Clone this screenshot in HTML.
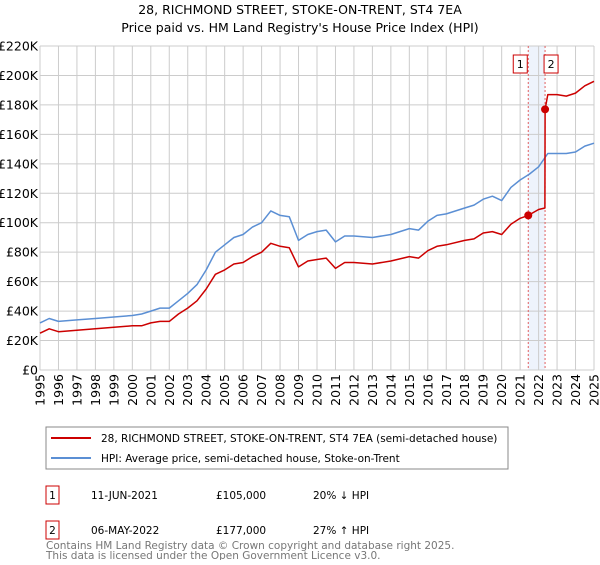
<!DOCTYPE html>
<html><head><meta charset="utf-8"><style>
body{margin:0;background:#fff;font-family:"Liberation Sans","DejaVu Sans",sans-serif;}
</style></head><body>
<svg width="600" height="560" xmlns="http://www.w3.org/2000/svg" font-family="DejaVu Sans, Liberation Sans, sans-serif">
<text x="300" y="14" text-anchor="middle" font-size="12.5" fill="#000">28, RICHMOND STREET, STOKE-ON-TRENT, ST4 7EA</text>
<text x="300" y="32" text-anchor="middle" font-size="12.5" fill="#000">Price paid vs. HM Land Registry's House Price Index (HPI)</text>
<g id="grid"></g>
<g id="marks"></g>
<g id="axes"></g>
<g>
<rect x="46" y="427" width="462" height="42" fill="#fff" stroke="#888"/>
<line x1="51" y1="438" x2="91" y2="438" stroke="#cc0000" stroke-width="2"/>
<text x="101" y="442" font-size="10.5">28, RICHMOND STREET, STOKE-ON-TRENT, ST4 7EA (semi-detached house)</text>
<line x1="51" y1="458" x2="91" y2="458" stroke="#5b8fd4" stroke-width="2"/>
<text x="101" y="462" font-size="10.5">HPI: Average price, semi-detached house, Stoke-on-Trent</text>
</g>
<g font-size="10.5">
<rect x="46" y="486" width="13" height="18" fill="#fff" stroke="#cc0000"/>
<text x="52.5" y="499" text-anchor="middle">1</text>
<text x="91" y="499">11-JUN-2021</text>
<text x="216" y="499">£105,000</text>
<text x="313" y="499">20% ↓ HPI</text>
<rect x="46" y="521" width="13" height="18" fill="#fff" stroke="#cc0000"/>
<text x="52.5" y="534" text-anchor="middle">2</text>
<text x="91" y="534">06-MAY-2022</text>
<text x="216" y="534">£177,000</text>
<text x="313" y="534">27% ↑ HPI</text>
</g>
<text x="46" y="549" font-size="10.5" fill="#777">Contains HM Land Registry data © Crown copyright and database right 2025.</text>
<text x="46" y="559" font-size="10.5" fill="#777">This data is licensed under the Open Government Licence v3.0.</text>
</svg>
<script>
const yTicks=[0,20,40,60,80,100,120,140,160,180,200,220];
const yTickLabels=["£0","£20K","£40K","£60K","£80K","£100K","£120K","£140K","£160K","£180K","£200K","£220K"];
const xYears=[1995,1996,1997,1998,1999,2000,2001,2002,2003,2004,2005,2006,2007,2008,2009,2010,2011,2012,2013,2014,2015,2016,2017,2018,2019,2020,2021,2022,2023,2024,2025];
const hpiDates=[1995,1995.5,1996,1997,1998,1999,2000,2000.5,2001,2001.5,2002,2002.5,2003,2003.5,2004,2004.5,2005,2005.5,2006,2006.5,2007,2007.5,2008,2008.5,2009,2009.5,2010,2010.5,2011,2011.5,2012,2013,2014,2015,2015.5,2016,2016.5,2017,2018,2018.5,2019,2019.5,2020,2020.5,2021,2021.5,2022,2022.5,2023,2023.5,2024,2024.5,2025];
const hpiValues=[32,35,33,34,35,36,37,38,40,42,42,47,52,58,68,80,85,90,92,97,100,108,105,104,88,92,94,95,87,91,91,90,92,96,95,101,105,106,110,112,116,118,115,124,129,133,138,147,147,147,148,152,154];
const propDates=[1995,1995.5,1996,1997,1998,1999,2000,2000.5,2001,2001.5,2002,2002.5,2003,2003.5,2004,2004.5,2005,2005.5,2006,2006.5,2007,2007.5,2008,2008.5,2009,2009.5,2010,2010.5,2011,2011.5,2012,2013,2014,2015,2015.5,2016,2016.5,2017,2018,2018.5,2019,2019.5,2020,2020.5,2021,2021.44,2022,2022.34,2022.35,2022.5,2023,2023.5,2024,2024.5,2025];
const propValues=[25,28,26,27,28,29,30,30,32,33,33,38,42,47,55,65,68,72,73,77,80,86,84,83,70,74,75,76,69,73,73,72,74,77,76,81,84,85,88,89,93,94,92,99,103,105,109,110,177,187,187,186,188,193,196];
const saleDates=[2021.44,2022.35];
const saleValues=[105,177];
const saleLabels=["1","2"];
const X0=40,X1=594,Y0=370,Y1=46;
const xs=t=>X0+(t-1995)/(2025-1995)*(X1-X0);
const ys=v=>Y0-v/220*(Y0-Y1);
const NS="http://www.w3.org/2000/svg";
function mk(tag,attrs,parent){const e=document.createElementNS(NS,tag);for(const k in attrs)e.setAttribute(k,attrs[k]);parent.appendChild(e);return e;}
const grid=document.getElementById('grid'),marks=document.getElementById('marks'),axes=document.getElementById('axes');
let band=mk('rect',{x:xs(saleDates[0]),y:Y1,width:xs(saleDates[1])-xs(saleDates[0]),height:Y0-Y1,fill:'#eef3fc'},grid);


yTicks.forEach((v,i)=>{
 let l=mk('line',{x1:X0,x2:X1,y1:ys(v),y2:ys(v),stroke:'#cccccc','stroke-width':1},grid);
 
 
 let t=mk('text',{x:X0-2,y:ys(v)+4.5,'text-anchor':'end','font-size':'12.5',fill:'#000'},axes);
 t.textContent=yTickLabels[i];
 
 
});
xYears.forEach(y=>{
 let l=mk('line',{x1:xs(y),x2:xs(y),y1:Y1,y2:Y0,stroke:'#cccccc','stroke-width':1},grid);
 
 
 let t=mk('text',{transform:`translate(${xs(y)+4.5},${Y0+4}) rotate(-90)`,'text-anchor':'end','font-size':'12.5',fill:'#000'},axes);
 t.textContent=y;
 
 
});
saleDates.forEach((d,i)=>{
 let l=mk('line',{x1:xs(d),x2:xs(d),y1:Y1,y2:Y0,stroke:'#e06060','stroke-width':1,'stroke-dasharray':'2,2'},grid);
 
 
});
function line(dates,vals,color,name){
 const p=dates.map((d,i)=>(i?'L':'M')+xs(d).toFixed(1)+','+ys(vals[i]).toFixed(1)).join(' ');
 let e=mk('path',{d:p,fill:'none',stroke:color,'stroke-width':1.5,'stroke-linejoin':'round'},marks);
 
 
}
line(hpiDates,hpiValues,'#5b8fd4','hpi-line');
line(propDates,propValues,'#cc0000','property-price-line');
saleDates.forEach((d,i)=>{
 let c=mk('circle',{cx:xs(d),cy:ys(saleValues[i]),r:4,fill:'#cc0000'},marks);
 
 
 let bx=xs(d)+(i===0?-15:-1);
 let r=mk('rect',{x:bx,y:55,width:14,height:18,fill:'#fff',stroke:'#cc0000'},marks);
 
 
 let t=mk('text',{x:bx+7,y:68,'text-anchor':'middle','font-size':'11'},marks);
 t.textContent=saleLabels[i];
 
 
});
</script>
</body></html>
